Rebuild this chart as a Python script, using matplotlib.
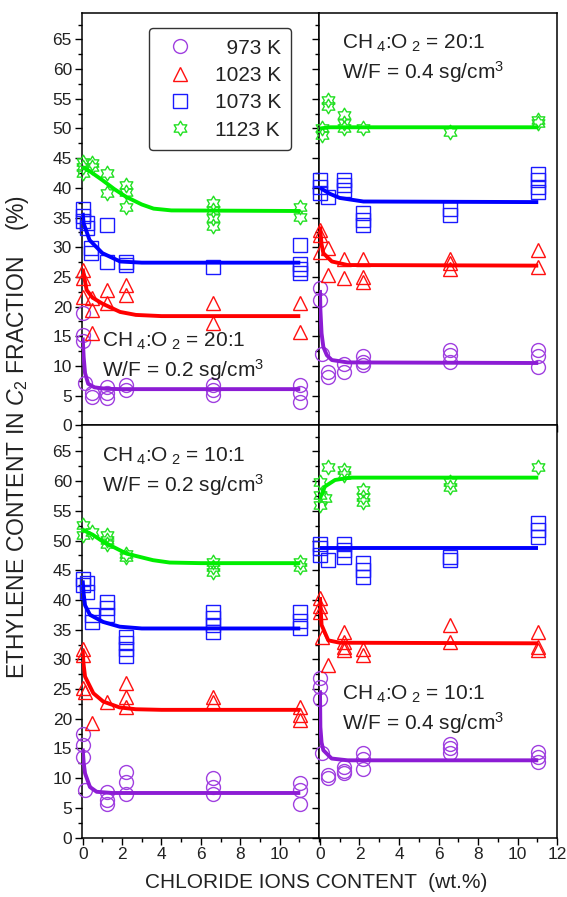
import matplotlib
matplotlib.use("Agg")
import numpy as np
import matplotlib.pyplot as plt
from matplotlib.path import Path
from matplotlib.lines import Line2D
from matplotlib.ticker import MultipleLocator

plt.rcParams['font.family'] = ['Liberation Sans', 'DejaVu Sans']
plt.rcParams['mathtext.fontset'] = 'custom'
plt.rcParams['mathtext.rm'] = 'Liberation Sans'
plt.rcParams['mathtext.it'] = 'Liberation Sans:italic'
plt.rcParams['text.color'] = '#222222'

## measured points, (chloride wt.%, ethylene %), read off the figure
# top left: CH4:O2 = 20:1, W/F = 0.2
tl_973 = ([0, 0, 0, 0.12, 0.45, 0.45, 1.23, 1.23, 1.23, 2.2, 2.2, 6.6, 6.6, 6.6, 11.05, 11.05, 11.05],
          [19.0, 15.3, 14.2, 7.2, 5.5, 4.8, 6.5, 5.4, 4.6, 6.8, 5.9, 6.8, 5.9, 5.1, 6.8, 5.4, 4.0])
tl_1023 = ([0, 0, 0, 0.45, 0.45, 0.45, 1.23, 1.23, 2.2, 2.2, 6.6, 6.6, 11.05, 11.05],
           [26.2, 24.8, 21.7, 21.5, 19.4, 15.6, 22.8, 20.6, 23.6, 22.0, 20.6, 17.2, 20.6, 15.8])
tl_1073 = ([0, 0, 0, 0.2, 0.2, 0.4, 0.4, 1.23, 1.23, 2.2, 2.2, 6.6, 11.05, 11.05, 11.05, 11.05],
           [36.5, 35.2, 34.5, 34.0, 33.2, 29.8, 29.0, 33.7, 27.5, 27.5, 27.0, 26.7, 30.4, 27.2, 26.3, 25.6])
tl_1123 = ([0, 0, 0, 0.45, 0.45, 1.23, 1.23, 2.2, 2.2, 2.2, 6.6, 6.6, 6.6, 6.6, 11.05, 11.05],
           [44.3, 43.5, 42.5, 44.2, 43.5, 42.5, 39.1, 40.5, 39.3, 36.8, 37.4, 36.3, 34.9, 33.6, 36.8, 35.1])

# top right: CH4:O2 = 20:1, W/F = 0.4
tr_973 = ([0, 0, 0.09, 0.4, 0.4, 1.23, 1.23, 2.2, 2.2, 2.2, 6.6, 6.6, 6.6, 11.05, 11.05, 11.05],
          [23.1, 21.1, 12.1, 9.0, 8.2, 10.4, 9.0, 11.6, 10.7, 10.2, 12.7, 11.8, 10.7, 12.7, 11.6, 9.9])
tr_1023 = ([0, 0, 0, 0.4, 0.4, 1.23, 1.23, 2.2, 2.2, 2.2, 6.6, 6.6, 6.6, 11.05, 11.05],
           [32.9, 32.0, 29.2, 29.8, 25.3, 28.1, 24.8, 28.1, 25.0, 24.2, 28.1, 27.3, 26.4, 29.5, 26.7])
tr_1073 = ([0, 0, 0, 0.42, 1.23, 1.23, 1.23, 2.2, 2.2, 2.2, 6.6, 6.6, 11.05, 11.05, 11.05, 11.05],
           [41.3, 40.2, 39.1, 38.5, 41.3, 40.5, 39.6, 35.7, 34.6, 33.7, 36.5, 35.4, 42.4, 41.3, 40.2, 39.3])
tr_1123 = ([0.09, 0.09, 0.4, 0.4, 1.23, 1.23, 1.23, 2.2, 6.6, 11.05, 11.05],
           [50.0, 48.9, 54.8, 53.7, 52.3, 50.9, 50.0, 50.0, 49.4, 51.4, 50.9])

# bottom left: CH4:O2 = 10:1, W/F = 0.2
bl_973 = ([0, 0, 0, 0.12, 1.23, 1.23, 1.23, 2.2, 2.2, 2.2, 6.6, 6.6, 6.6, 11.05, 11.05, 11.05],
          [17.5, 15.6, 13.6, 8.0, 7.7, 6.3, 5.7, 11.1, 9.4, 7.4, 10.0, 8.5, 7.4, 9.1, 8.0, 5.7])
bl_1023 = ([0, 0, 0.03, 0.12, 0.46, 1.23, 2.2, 2.2, 2.2, 6.6, 6.6, 11.05, 11.05, 11.05],
           [31.8, 30.7, 25.1, 24.5, 19.2, 22.9, 26.0, 23.7, 22.0, 23.7, 22.9, 22.0, 20.6, 19.8])
bl_1073 = ([0, 0, 0.2, 0.2, 0.46, 0.46, 1.23, 1.23, 1.23, 2.2, 2.2, 2.2, 2.2,
            6.6, 6.6, 6.6, 6.6, 11.05, 11.05, 11.05],
           [43.6, 42.5, 42.8, 41.4, 37.5, 36.3, 39.7, 38.6, 37.5, 33.8, 32.8, 31.8, 30.6,
            38.0, 36.9, 35.8, 34.6, 38.0, 36.5, 35.3])
bl_1123 = ([0, 0, 0.45, 1.23, 1.23, 1.23, 2.2, 2.2, 6.6, 6.6, 6.6, 11.05, 11.05],
           [52.6, 50.9, 51.5, 50.9, 50.1, 49.5, 47.8, 47.3, 46.4, 45.6, 44.7, 46.4, 45.6])

# bottom right: CH4:O2 = 10:1, W/F = 0.4
br_973 = ([0, 0, 0, 0.09, 0.4, 0.4, 1.23, 1.23, 1.23, 2.2, 2.2, 2.2, 6.6, 6.6, 6.6, 11.05, 11.05, 11.05],
          [26.8, 25.4, 23.4, 14.2, 10.5, 10.0, 11.9, 11.2, 10.8, 14.2, 13.3, 11.6, 15.8, 15.0, 14.2, 14.4, 13.6, 12.7])
br_1023 = ([0, 0, 0, 0.09, 0.4, 1.23, 1.23, 1.23, 1.23, 2.2, 2.2, 6.6, 6.6, 11.05, 11.05, 11.05],
           [40.3, 38.9, 38.0, 33.8, 29.0, 34.6, 33.0, 32.1, 31.6, 31.8, 30.8, 35.8, 33.0, 34.6, 32.1, 31.6])
br_1073 = ([0, 0, 0, 0.4, 1.23, 1.23, 1.23, 2.2, 2.2, 2.2, 6.6, 6.6, 11.05, 11.05, 11.05],
           [49.5, 48.7, 47.6, 46.7, 49.5, 48.4, 47.3, 46.2, 45.0, 43.9, 47.3, 46.7, 52.9, 51.8, 50.6])
br_1123 = ([0, 0, 0, 0.25, 0.4, 1.23, 1.23, 2.2, 2.2, 2.2, 6.6, 6.6, 11.05],
           [59.9, 57.7, 56.0, 57.1, 62.4, 61.9, 61.0, 58.5, 57.4, 56.5, 59.9, 59.1, 62.4])

## fitted curves
tl_973_fit = ([0, 0.05, 0.12, 0.28, 0.6, 1.2, 2, 11.05], [14.8, 11.5, 8.8, 7.0, 6.4, 6.15, 6.1, 6.1])
tl_1023_fit = ([0, 0.2, 0.5, 1.0, 1.9, 2.7, 4, 11.05], [26.4, 22.8, 21.5, 20.5, 19.1, 18.6, 18.4, 18.4])
tl_1073_fit = ([0, 0.05, 0.35, 1.0, 1.9, 3, 11.05], [35.8, 34.0, 31.2, 29.0, 27.6, 27.4, 27.4])
tl_1123_fit = ([0, 0.4, 1.0, 1.6, 2.2, 3.0, 3.6, 4.5, 11.05], [43.5, 42.7, 41.3, 39.8, 38.5, 37.2, 36.5, 36.2, 36.1])

tr_973_fit = ([0, 0.02, 0.08, 0.17, 0.35, 0.6, 1.4, 11.05], [22.8, 19.5, 15.5, 13.2, 11.8, 11.0, 10.6, 10.5])
tr_1023_fit = ([0, 0.08, 0.17, 0.6, 1.4, 11.05], [33.5, 30.5, 29.0, 27.6, 27.0, 26.9])
tr_1073_fit = ([0, 0.5, 1.0, 2.2, 11.05], [40.0, 39.0, 38.3, 37.7, 37.6])
tr_1123_fit = ([0, 0.5, 11.05], [50.0, 50.2, 50.2])

bl_973_fit = ([0, 0.05, 0.12, 0.37, 0.71, 1.5, 11.05], [15.0, 12.6, 10.8, 8.5, 7.7, 7.5, 7.5])
bl_1023_fit = ([0, 0.04, 0.12, 0.54, 1.04, 1.88, 2.7, 4, 11.05], [31.6, 29.3, 27.1, 24.3, 22.9, 21.9, 21.6, 21.5, 21.5])
bl_1073_fit = ([0, 0.05, 0.12, 0.37, 1.04, 1.88, 3, 11.05], [43.3, 41.0, 39.1, 37.5, 36.3, 35.5, 35.2, 35.2])
bl_1123_fit = ([0, 0.5, 1.04, 2.23, 3.57, 4.42, 6, 11.05], [51.8, 51.0, 49.8, 47.8, 46.7, 46.3, 46.2, 46.2])

br_973_fit = ([0, 0.02, 0.08, 0.17, 0.59, 1.4, 11.05], [24.8, 18.6, 16.0, 14.7, 13.3, 13.0, 13.0])
br_1023_fit = ([0, 0.08, 0.42, 1.0, 11.05], [40.5, 35.8, 33.2, 32.8, 32.7])
br_1073_fit = ([0, 11.05], [48.7, 48.7])
br_1123_fit = ([0, 0.25, 0.76, 1.5, 11.05], [57.1, 59.1, 60.2, 60.6, 60.6])

temps = ['973 K', '1023 K', '1073 K', '1123 K']
legend_labels = ['  973 K', '1023 K', '1073 K', '1123 K']

# hexagram outline for the 1123 K marker
a_out = np.deg2rad(90 + 60 * np.arange(6))
star = []
for a in a_out:
    star.append((np.cos(a), np.sin(a)))
    star.append((np.cos(a + np.pi / 6) / np.sqrt(3), np.sin(a + np.pi / 6) / np.sqrt(3)))
star.append(star[0])
hexagram = Path(star, closed=True)

markers = ['o', '^', 's', hexagram]
msizes = [10, 9.5, 9.5, 10.5]
mcolors = ['#A040E0', '#FF1010', '#1A1AFF', '#22E022']
lcolors = ['#8C1CD4', '#FF0000', '#0000FF', '#00EE00']

panels = [
    ([0.1441, 0.5258, 0.4185, 0.4594], [tl_973, tl_1023, tl_1073, tl_1123],
     [tl_973_fit, tl_1023_fit, tl_1073_fit, tl_1123_fit], '20:1', '0.2', (0.084, 0.191, 0.118)),
    ([0.5626, 0.5258, 0.4198, 0.4594], [tr_973, tr_1023, tr_1073, tr_1123],
     [tr_973_fit, tr_1023_fit, tr_1073_fit, tr_1123_fit], '20:1', '0.4', (0.095, 0.915, 0.842)),
    ([0.1441, 0.0663, 0.4185, 0.4595], [bl_973, bl_1023, bl_1073, bl_1123],
     [bl_973_fit, bl_1023_fit, bl_1073_fit, bl_1123_fit], '10:1', '0.2', (0.084, 0.912, 0.839)),
    ([0.5626, 0.0663, 0.4198, 0.4595], [br_973, br_1023, br_1073, br_1123],
     [br_973_fit, br_1023_fit, br_1073_fit, br_1123_fit], '10:1', '0.4', (0.095, 0.334, 0.261)),
]

fig = plt.figure(figsize=(5.67, 8.97), dpi=100)

axes = []
for i, (pos, pts, fits, ratio, wf, tpos) in enumerate(panels):
    ax = fig.add_axes(pos)
    axes.append(ax)
    for k in range(4):
        ax.plot(pts[k][0], pts[k][1], linestyle='none', marker=markers[k], ms=msizes[k],
                mfc='none', mec=mcolors[k], mew=1.0, clip_on=False, zorder=3)
    for k in range(4):
        ax.plot(fits[k][0], fits[k][1], color=lcolors[k], lw=2.8, zorder=4,
                solid_capstyle='butt')

    ax.set_xlim(-0.05, 12.0)
    ax.set_ylim(0, 69.4)
    ax.xaxis.set_major_locator(MultipleLocator(2))
    ax.xaxis.set_minor_locator(MultipleLocator(1))
    ax.yaxis.set_major_locator(MultipleLocator(5))
    ax.yaxis.set_minor_locator(MultipleLocator(2.5))
    ax.tick_params(which='both', direction='out', top=False, right=False,
                   labelsize=12.5, labelcolor='#222222', width=1.0)
    ax.tick_params(which='major', length=5, pad=2)
    ax.tick_params(which='minor', length=3)
    for sp in ax.spines.values():
        sp.set_linewidth(1.1)

    if i % 2 == 0:
        ax.set_yticks(np.arange(0, 66, 5))
    else:
        ax.tick_params(axis='y', labelleft=False)
    if i < 2:
        ax.tick_params(axis='x', labelbottom=False)
    elif i == 2:
        ax.set_xticks(np.arange(0, 11, 2))
    else:
        ax.set_xticks(np.arange(0, 13, 2))

    ax.text(tpos[0], tpos[1], r'CH$_{\ 4}$:O$_{\ 2}$ = ' + ratio, transform=ax.transAxes,
            fontsize=15, va='baseline', ha='left', zorder=6)
    ax.text(tpos[0], tpos[2], 'W/F = ' + wf + r' sg/cm$^{3}$', transform=ax.transAxes,
            fontsize=15, va='baseline', ha='left', zorder=6)

# legend
handles = [Line2D([], [], linestyle='none', marker=markers[k], ms=msizes[k], mfc='none',
                  mec=mcolors[k], mew=1.0) for k in range(4)]
leg = axes[0].legend(handles, legend_labels, loc='upper left', bbox_to_anchor=(0.284, 0.964),
                     borderaxespad=0, fontsize=15, handlelength=2.0, handletextpad=0.64,
                     labelspacing=0.4, borderpad=0.5, fancybox=True, framealpha=1,
                     edgecolor='#333333')
leg.get_frame().set_linewidth(1.0)
leg.set_zorder(7)

fig.text(0.557, 0.0167, 'CHLORIDE IONS CONTENT  (wt.%)', ha='center', va='center', fontsize=15)
fig.text(0.030, 0.513, r'ETHYLENE CONTENT IN $C_2$ FRACTION    (%)', ha='center', va='center',
         rotation=90, fontsize=16.5)

fig.savefig('out.png', dpi=100)
